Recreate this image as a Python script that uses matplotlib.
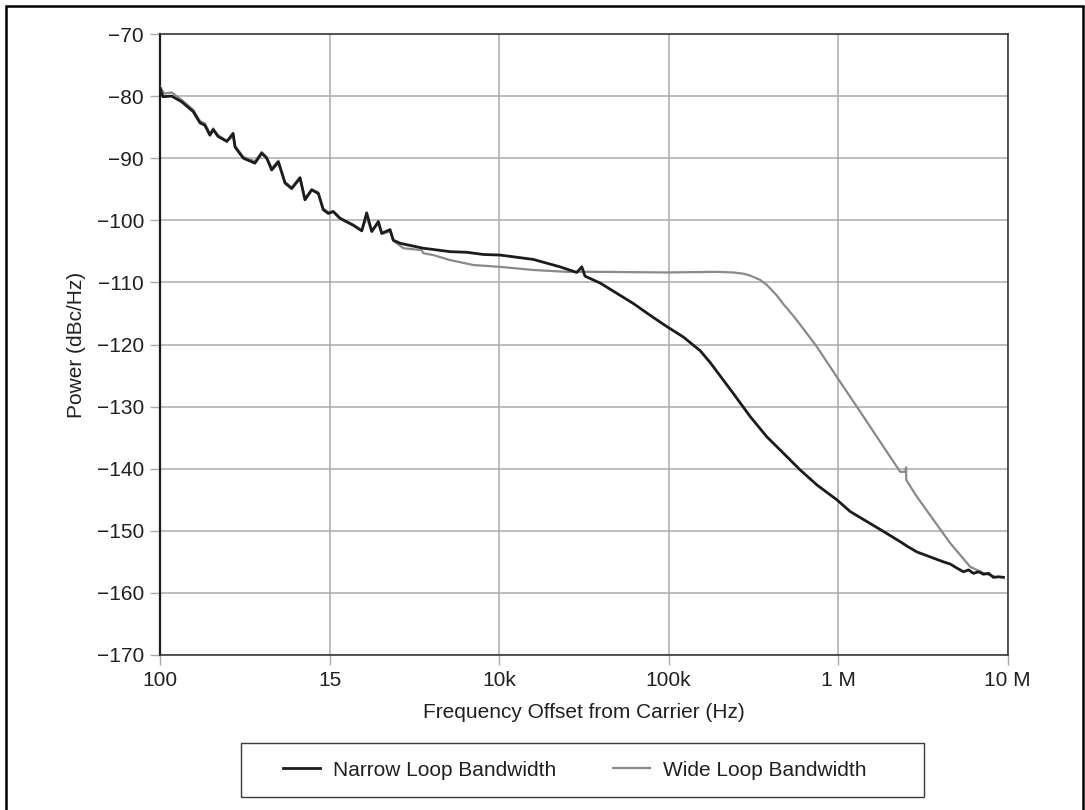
import matplotlib
matplotlib.use("Agg")
import matplotlib.pyplot as plt
from matplotlib.patches import Rectangle

plt.rcParams['font.family'] = ['Liberation Sans', 'DejaVu Sans']

# Phase noise data (Hz, dBc/Hz)
narrow_freq = [100, 104, 117, 134, 157, 172, 184, 197, 206, 220, 248, 270, 277, 310,
               363, 398, 426, 456, 499, 546, 598, 670, 716, 785, 859, 918, 984, 1052,
               1153, 1380, 1549, 1656, 1774, 1941, 2032, 2275, 2377, 2606, 3573, 4093,
               5140, 6442, 8072, 10140, 15920, 22910, 28710, 30760, 32140, 39450,
               61940, 77800, 97500, 122200, 153500, 175800, 241000, 302700, 379300,
               475300, 597000, 748200, 982000, 1177600, 1476000, 1849000, 2323000,
               2541000, 2911000, 3648000, 4178000, 4581000, 5012000, 5483000,
               5875000, 6281000, 6730000, 7194000, 7709000, 8241000, 8831000, 9441000]
narrow_power = [-78.7, -80.1, -80.0, -80.9, -82.5, -84.3, -84.7, -86.3, -85.4, -86.5,
                -87.3, -86.0, -88.2, -90.0, -90.8, -89.2, -90.0, -91.9, -90.6, -94.0,
                -94.9, -93.2, -96.7, -95.1, -95.7, -98.3, -98.9, -98.6, -99.7, -100.8,
                -101.7, -98.8, -101.8, -100.2, -102.1, -101.5, -103.2, -103.7, -104.5,
                -104.7, -105.05, -105.15, -105.5, -105.6, -106.3, -107.5, -108.4, -107.5,
                -109.0, -110.1, -113.4, -115.3, -117.1, -118.8, -121.0, -122.9, -127.9,
                -131.6, -134.85, -137.5, -140.2, -142.6, -145.0, -146.9, -148.5, -150.1,
                -151.75, -152.45, -153.4, -154.4, -155.0, -155.35, -156.0, -156.6,
                -156.3, -156.85, -156.6, -157.0, -156.85, -157.5, -157.4, -157.5]

wide_freq = [100, 106, 117, 134, 157, 172, 184, 197, 206, 220, 248, 270, 277, 310,
             363, 398, 426, 456, 499, 546, 598, 670, 716, 785, 859, 918, 984, 1052,
             1153, 1380, 1549, 1656, 1774, 1941, 2032, 2275, 2377, 2729, 3499, 3573,
             4093, 5140, 7047, 10140, 15920, 25060, 39450, 97500, 192300, 241000,
             276100, 302700, 346700, 379300, 434500, 475300, 544500, 597000, 748200,
             1009000, 1288000, 1849000, 2323000, 2483000, 2518000, 2520000, 2911000,
             4581000, 6012000, 7194000, 8241000]
wide_power = [-78.5, -79.6, -79.4, -80.6, -82.2, -84.0, -84.4, -86.0, -85.2, -86.3,
              -87.2, -86.5, -88.0, -89.8, -90.5, -89.0, -89.8, -91.6, -90.4, -93.8,
              -94.7, -93.0, -96.5, -95.0, -95.5, -98.1, -98.7, -98.5, -99.6, -100.7,
              -101.6, -99.5, -101.8, -100.5, -102.2, -101.8, -103.3, -104.5, -104.8,
              -105.3, -105.6, -106.4, -107.2, -107.5, -108.0, -108.3, -108.3, -108.4,
              -108.3, -108.4, -108.6, -108.9, -109.6, -110.4, -112.1, -113.5, -115.4,
              -116.8, -120.35, -125.7, -130.0, -136.45, -140.5, -140.5, -139.8, -141.8,
              -144.5, -152.0, -155.8, -156.8, -157.3]

x_ticks = [1e2, 1e3, 1e4, 1e5, 1e6, 1e7]
x_tick_labels = ['100', '15', '10k', '100k', '1 M', '10 M']
y_ticks = list(range(-170, -60, 10))

text_col = '#231f20'
grid_col = '#ababab'

fig = plt.figure(figsize=(10.85, 8.1), dpi=100)
ax = fig.add_axes([160 / 1085, 1 - 655 / 810, 847.7 / 1085, 621 / 810])

ax.plot(wide_freq, wide_power, color='#8a8a8a', lw=1.6, label='Wide Loop Bandwidth', zorder=3)
ax.plot(narrow_freq, narrow_power, color='#1e1b1c', lw=2.0, label='Narrow Loop Bandwidth', zorder=4)

ax.set_xscale('log')
ax.set_xlim(1e2, 1e7)
ax.set_ylim(-170, -70)
ax.set_xticks(x_ticks)
ax.set_xticklabels(x_tick_labels)
ax.xaxis.set_minor_locator(matplotlib.ticker.NullLocator())
ax.set_yticks(y_ticks)
ax.set_yticklabels(['\u2212%d' % (-v) for v in y_ticks])

ax.grid(True, color=grid_col, lw=1.1)
ax.set_axisbelow(True)
ax.tick_params(length=7.5, width=1.0, color=grid_col, labelsize=15,
               labelcolor=text_col, pad=4)
for s in ax.spines.values():
    s.set_color('#3a3a3a')
    s.set_linewidth(1.2)
ax.spines['left'].set_linewidth(1.6)
ax.spines['left'].set_color('#1e1b1c')

ax.set_xlabel('Frequency Offset from Carrier (Hz)', fontsize=15, color=text_col)
ax.set_ylabel('Power (dBc/Hz)', fontsize=15, color=text_col)
ax.xaxis.set_label_coords(0.5, -0.093)
ax.yaxis.set_label_coords(-0.099, 0.5)
ax.xaxis.label.set_va('center')
ax.yaxis.label.set_va('center')

# legend below the axes, narrow first, inside a plain box
handles, labels = ax.get_legend_handles_labels()
leg = fig.legend(handles[::-1], labels[::-1], ncol=2, loc='center left',
                 bbox_to_anchor=(283 / 1085, 1 - 770 / 810),
                 fontsize=15, frameon=False, borderaxespad=0, borderpad=0,
                 handlelength=1.77, handletextpad=0.62, columnspacing=2.75)
for t in leg.get_texts():
    t.set_color(text_col)
fig.patches.append(Rectangle((241 / 1085, 1 - 797 / 810), 683 / 1085, 54 / 810,
                             transform=fig.transFigure, fill=False,
                             edgecolor='#3a3a3a', lw=1.0))

# outer frame of the figure (open at the bottom edge)
fig.patches.append(Rectangle((6 / 1085, -0.05), 1077 / 1085, 1 - 6 / 810 + 0.05,
                             transform=fig.transFigure, fill=False,
                             edgecolor='black', lw=1.8))

fig.savefig('out.png', dpi=100)
